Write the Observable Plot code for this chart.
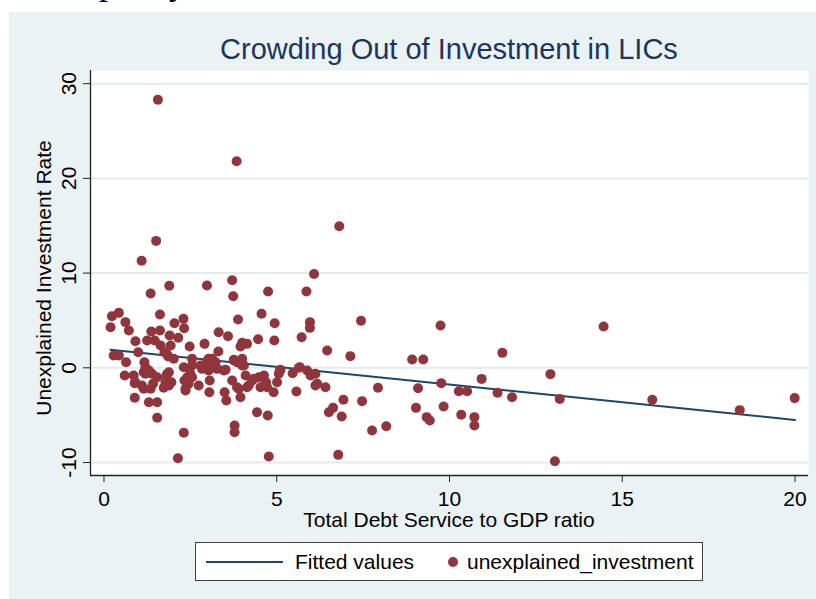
<!DOCTYPE html>
<html>
<head>
<meta charset="utf-8">
<script src="https://cdn.jsdelivr.net/npm/d3@7"></script>
<script src="https://cdn.jsdelivr.net/npm/@observablehq/plot@0.6"></script>
<style>
  html, body { margin: 0; padding: 0; }
  body { width: 816px; height: 599px; position: relative; overflow: hidden; background: #ffffff;
         font-family: "Liberation Sans", Arial, sans-serif; }
  #frag { position: absolute; left: 0; top: 0; width: 816px; height: 11px; overflow: hidden; }
  #frag span { position: absolute; left: 99px; top: -36px; font: 36px/1 "Liberation Serif", serif; color: #000; white-space: nowrap; }
  #panel { position: absolute; left: 9px; top: 12px; width: 807px; height: 587px; background: #EAF2F3; }
  #chart { position: absolute; left: 0; top: 0; }
  .title { position: absolute; left: 0; width: 880px; top: 21px; text-align: center; font-size: 29px; color: #1c3560; white-space: nowrap; }
  .xlabel { position: absolute; left: 0; width: 880px; top: 498px; text-align: center; font-size: 21px; line-height: 20px; color: #000; white-space: nowrap; }
  .ylabel { position: absolute; left: 35px; top: 266px; width: 0; height: 0; }
  .ylabel span { position: absolute; left: 0; top: 0; transform: translate(-50%, -50%) rotate(-90deg); font-size: 21px; color: #000; white-space: nowrap; }
  .legend { position: absolute; left: 186px; top: 530px; width: 506px; height: 37px; background: #fff; border: 1px solid #404040; }
  .legend .line { position: absolute; left: 10px; top: 18px; width: 77px; height: 2px; background: #1A476F; }
  .legend .t1 { position: absolute; left: 99px; top: 7px; font-size: 21px; color: #000; white-space: nowrap; }
  .legend .dot { position: absolute; left: 252px; top: 14px; width: 10px; height: 10px; border-radius: 50%; background: #90353B; }
  .legend .t2 { position: absolute; left: 271px; top: 7px; font-size: 21px; color: #000; white-space: nowrap; }
</style>
</head>
<body>
<div id="frag"><span>pacity</span></div>
<div id="panel">
  <div id="chart"></div>
  <div class="title">Crowding Out of Investment in LICs</div>
  <div class="ylabel"><span>Unexplained Investment Rate</span></div>
  <div class="xlabel">Total Debt Service to GDP ratio</div>
  <div class="legend">
    <div class="line"></div><div class="t1">Fitted values</div>
    <div class="dot"></div><div class="t2">unexplained_investment</div>
  </div>
</div>
<script>
// Total debt service to GDP ratio (x) and unexplained investment rate (y)
const debtService = [
  1.56, 3.84, 1.51, 1.09, 6.81, 6.08, 3.71, 1.89, 2.98, 1.35, 3.74, 4.75, 5.86,
  0.43, 0.23, 1.62, 0.19, 0.62, 0.72, 2.04, 2.30, 2.32, 1.37, 1.62, 1.90, 2.15, 0.91, 1.25, 1.47, 1.64, 1.93, 2.48, 2.91,
  3.88, 4.56, 4.94, 5.96, 5.96, 3.32, 3.59, 4.46, 4.93, 5.72, 4.00, 4.14, 3.95, 6.46, 7.44, 7.13, 9.74, 8.92, 9.24, 11.53, 14.46,
  0.99, 1.75, 1.86, 2.02, 0.28, 0.43, 0.64, 1.17, 2.55, 3.31, 3.03, 3.76, 4.00, 4.00, 5.11, 5.67, 1.20, 1.15, 1.30, 1.39, 1.83,
  0.60, 0.86, 0.91, 1.20, 1.54, 1.83, 1.81, 1.88, 0.89, 1.10, 1.15, 1.35, 1.42, 1.73, 1.78, 1.88, 1.95,
  0.89, 1.30, 1.54, 1.54, 2.31, 2.14,
  2.33, 2.41, 2.50, 2.55, 2.31, 2.36, 2.45, 2.74, 2.36, 2.55,
  2.79, 2.84, 2.94, 2.99, 3.03, 3.08, 3.13, 3.18, 3.23, 3.28, 3.47, 3.52, 3.85, 4.05,
  3.06, 3.05, 3.49, 3.54, 3.71, 3.76, 3.85, 3.95, 4.10, 4.14, 4.19, 3.90, 3.95, 4.29,
  4.43, 4.74, 3.78, 3.78, 4.77,
  4.34, 4.48, 4.63, 4.69, 4.72, 4.53,
  4.91, 5.01, 5.06, 5.09,
  5.46, 5.64, 5.88, 5.98, 6.12, 6.17, 6.41, 6.51, 5.57, 6.12,
  7.93, 9.09, 9.76, 10.27, 10.51, 10.93, 11.39, 11.81, 6.93, 7.47, 6.63, 6.88, 9.03, 9.83, 9.34, 9.43,
  10.34, 10.72, 10.72, 7.76, 8.17, 6.78, 12.92, 13.19, 13.05, 15.87, 18.40, 19.99
];
const unexplainedInvestment = [
  28.3, 21.8, 13.4, 11.3, 14.95, 9.9, 9.25, 8.66, 8.69, 7.85, 7.56, 8.06, 8.06,
  5.8, 5.45, 5.63, 4.29, 4.82, 3.94, 4.71, 5.17, 4.18, 3.83, 3.94, 3.41, 3.17, 2.81, 2.88, 2.88, 2.35, 2.35, 2.25, 2.53,
  5.10, 5.70, 4.71, 4.82, 4.22, 3.76, 3.34, 3.02, 2.88, 3.23, 2.64, 2.53, 2.25, 1.83, 4.96, 1.23, 4.47, 0.88, 0.88, 1.58, 4.36,
  1.65, 1.65, 1.19, 0.95, 1.30, 1.30, 0.59, 0.59, 0.95, 1.72, 0.95, 0.84, 0.95, 0.24, -0.21, 0.06, 0.06, -0.46, -0.29, -0.63, 1.40,
  -0.81, -0.81, -1.52, -0.63, -0.99, -0.63, -0.81, -0.46, -1.62, -1.87, -2.22, -2.22, -1.69, -2.11, -1.52, -1.87, -1.52,
  -3.17, -3.63, -3.63, -5.28, -6.86, -9.55,
  -1.34, -0.99, -0.63, 0.24, 0.06, -2.22, -1.69, -1.87, -2.40, -0.99,
  0.24, -0.11, 0.06, 0.77, -0.29, 0.42, 0.95, 0.06, 0.59, -0.11, -0.29, -0.21, 0.59, 0.24,
  -1.34, -2.58, -2.58, -3.45, -1.34, 0.77, -2.05, 0.59, -0.81, -2.05, -1.87, -2.22, -3.10, -1.34,
  -4.69, -5.04, -6.09, -6.80, -9.37,
  -1.16, -0.99, -0.81, -1.52, -2.05, -2.05,
  -2.58, -1.52, -0.63, -0.29,
  -0.57, 0.00, -0.29, -0.81, -0.63, -1.69, -2.05, -4.69, -2.50, -1.87,
  -2.11, -2.15, -1.62, -2.47, -2.47, -1.17, -2.64, -3.10, -3.38, -3.52, -4.23, -5.14, -4.23, -4.09, -5.21, -5.57,
  -4.96, -5.21, -6.09, -6.62, -6.17, -9.19, -0.67, -3.28, -9.86, -3.38, -4.47, -3.20
];
// Fitted values (linear fit), endpoints
const fittedX = [0.19, 20.0];
const fittedY = [1.9, -5.5];
// Axis ticks
const xTicks = [0, 5, 10, 15, 20];
const yTicks = [-10, 0, 10, 20, 30];
const xDomain = [-0.39, 20.39];
const yDomain = [-11.37, 31.39];

const points = debtService.map((x, i) => ({x, y: unexplainedInvestment[i]}));
const fitted = fittedX.map((x, i) => ({x, y: fittedY[i]}));

const chart = Plot.plot({
  width: 807,
  height: 587,
  marginLeft: 81,
  marginRight: 8,
  marginTop: 58,
  marginBottom: 124,
  style: { background: "transparent", fontFamily: "Liberation Sans, Arial, sans-serif", color: "#000", overflow: "visible" },
  x: { domain: xDomain, ticks: xTicks },
  y: { domain: yDomain, ticks: yTicks },
  marks: [
    Plot.frame({ fill: "white", stroke: "none" }),
    Plot.gridY(yTicks, { stroke: "#E2EBEE", strokeOpacity: 1, strokeWidth: 2 }),
    Plot.ruleX([xDomain[0]], { stroke: "#222", strokeWidth: 1.3 }),
    Plot.ruleY([yDomain[0]], { stroke: "#222", strokeWidth: 1.3 }),
    Plot.axisX(xTicks, { anchor: "bottom", tickSize: 7, tickPadding: 9, fontSize: 21, label: null, stroke: "#222", tickFormat: d => String(d) }),
    Plot.axisY(yTicks, { anchor: "left", tickSize: 7, tickPadding: 8, tickRotate: -90, fontSize: 21, label: null, stroke: "#222", tickFormat: d => String(d) }),
    Plot.line(fitted, { x: "x", y: "y", stroke: "#1A476F", strokeWidth: 2 }),
    Plot.dot(points, { x: "x", y: "y", r: 5, fill: "#90353B", stroke: "none" })
  ]
});
document.getElementById("chart").appendChild(chart);
</script>
</body>
</html>
